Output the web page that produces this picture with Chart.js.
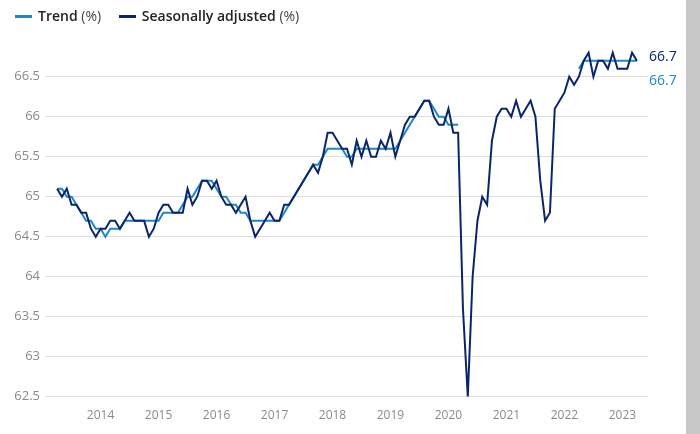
<!DOCTYPE html>
<html>
<head>
<meta charset="utf-8">
<script src="https://cdn.jsdelivr.net/npm/chart.js@4.4.0/dist/chart.umd.min.js"></script>
<style>
    html, body { margin: 0; padding: 0; background: #fff; }
    #wrap { position: relative; width: 700px; height: 434px; overflow: hidden; font-family: "Open Sans", sans-serif; }
    #chart { position: absolute; left: 0; top: 0; }
    #legend { position: absolute; left: 15px; top: 6px; font-size: 14px; color: #222; white-space: nowrap; }
    .item { display: inline-block; margin-right: 14px; }
    .swatch { display: inline-block; width: 17px; height: 2.5px; vertical-align: middle; margin-right: 6px; position: relative; top: -1px; }
    .name { font-weight: 600; }
    .unit { font-weight: 400; color: #444; }
    #scrollbar { position: absolute; right: 0; top: 0; width: 14px; height: 434px; background: #c8c8c8; }
</style>
</head>
<body>
<div id="wrap">
    <canvas id="chart" width="700" height="434"></canvas>
    <div id="legend">
        <span class="item"><span class="swatch" style="background:#1f87c6"></span><span class="name">Trend</span> <span class="unit">(%)</span></span>
        <span class="item"><span class="swatch" style="background:#0b2569"></span><span class="name">Seasonally adjusted</span> <span class="unit">(%)</span></span>
    </div>
    <div id="scrollbar"></div>
</div>
<script>
// monthly series, first point = April 2013, last point = April 2023
const firstYear = 2013;
const firstMonth = 4;
const yearTicks = [2014, 2015, 2016, 2017, 2018, 2019, 2020, 2021, 2022, 2023];
const yTicks = [62.5, 63, 63.5, 64, 64.5, 65, 65.5, 66, 66.5];

// Seasonally adjusted (%)
const saValues = [
    65.1, 65.0, 65.1, 64.9, 64.9, 64.8, 64.8, 64.6, 64.5, 64.6,
    64.6, 64.7, 64.7, 64.6, 64.7, 64.8, 64.7, 64.7, 64.7, 64.5,
    64.6, 64.8, 64.9, 64.9, 64.8, 64.8, 64.8, 65.1, 64.9, 65.0,
    65.2, 65.2, 65.1, 65.2, 65.0, 64.9, 64.9, 64.8, 64.9, 65.0,
    64.7, 64.5, 64.6, 64.7, 64.8, 64.7, 64.7, 64.9, 64.9, 65.0,
    65.1, 65.2, 65.3, 65.4, 65.3, 65.5, 65.8, 65.8, 65.7, 65.6,
    65.6, 65.4, 65.7, 65.5, 65.7, 65.5, 65.5, 65.7, 65.6, 65.8,
    65.5, 65.7, 65.9, 66.0, 66.0, 66.1, 66.2, 66.2, 66.0, 65.9,
    65.9, 66.1, 65.8, 65.8, 63.6, 62.5, 64.0, 64.7, 65.0, 64.9,
    65.7, 66.0, 66.1, 66.1, 66.0, 66.2, 66.0, 66.1, 66.2, 66.0,
    65.2, 64.7, 64.8, 66.1, 66.2, 66.3, 66.5, 66.4, 66.5, 66.7,
    66.8, 66.5, 66.7, 66.7, 66.6, 66.8, 66.6, 66.6, 66.6, 66.8,
    66.7
];

// Trend (%) - suspended during the pandemic
const trendValues = [
    65.1, 65.1, 65.0, 65.0, 64.9, 64.8, 64.7, 64.7, 64.6, 64.6,
    64.5, 64.6, 64.6, 64.6, 64.7, 64.7, 64.7, 64.7, 64.7, 64.7,
    64.7, 64.7, 64.8, 64.8, 64.8, 64.8, 64.9, 65.0, 65.0, 65.1,
    65.2, 65.2, 65.2, 65.1, 65.0, 65.0, 64.9, 64.9, 64.8, 64.8,
    64.7, 64.7, 64.7, 64.7, 64.7, 64.7, 64.7, 64.8, 64.9, 65.0,
    65.1, 65.2, 65.3, 65.4, 65.4, 65.5, 65.6, 65.6, 65.6, 65.6,
    65.5, 65.5, 65.6, 65.6, 65.6, 65.6, 65.6, 65.6, 65.6, 65.6,
    65.6, 65.7, 65.8, 65.9, 66.0, 66.1, 66.2, 66.2, 66.1, 66.0,
    66.0, 65.9, 65.9, 65.9, null, null, null, null, null, null,
    null, null, null, null, null, null, null, null, null, null,
    null, null, null, null, null, null, null, null, 66.6, 66.7,
    66.7, 66.7, 66.7, 66.7, 66.7, 66.7, 66.7, 66.7, 66.7, 66.7,
    66.7
];

const darkBlue = '#0b2569';
const lightBlue = '#1f87c6';

// month number counted from the first observation
function toPoints(values) {
    return values.map(function(v, i) { return { x: i, y: v }; });
}

const endLabels = {
    id: 'endLabels',
    afterDatasetsDraw: function(chart) {
        const ctx = chart.ctx;
        const y = chart.scales.y;
        const x0 = chart.chartArea.right + 1;
        const lastSa = saValues[saValues.length - 1];
        const lastTrend = trendValues[trendValues.length - 1];
        ctx.save();
        ctx.font = '14px "Open Sans"';
        ctx.textAlign = 'left';
        ctx.textBaseline = 'middle';
        ctx.fillStyle = darkBlue;
        ctx.fillText(lastSa.toFixed(1), x0, y.getPixelForValue(lastSa) - 3.5);
        ctx.fillStyle = lightBlue;
        ctx.fillText(lastTrend.toFixed(1), x0, y.getPixelForValue(lastTrend) + 20);
        ctx.restore();
    }
};

new Chart(document.getElementById('chart'), {
    type: 'line',
    data: {
        datasets: [
            {
                label: 'Seasonally adjusted (%)',
                data: toPoints(saValues),
                borderColor: darkBlue,
                borderWidth: 2,
                pointRadius: 0,
                tension: 0,
                order: 0
            },
            {
                label: 'Trend (%)',
                data: toPoints(trendValues),
                borderColor: lightBlue,
                borderWidth: 2,
                pointRadius: 0,
                tension: 0,
                spanGaps: false,
                order: 1
            }
        ]
    },
    options: {
        responsive: false,
        animation: false,
        layout: { padding: { top: 44.7, right: 52, left: 0, bottom: 0 } },
        plugins: {
            legend: { display: false },
            tooltip: { enabled: false }
        },
        scales: {
            x: {
                type: 'linear',
                min: -2.3,
                max: 122.3,
                grid: { display: false },
                border: { display: false },
                afterBuildTicks: function(scale) {
                    scale.ticks = yearTicks.map(function(yr) {
                        return { value: (yr - firstYear) * 12 - (firstMonth - 1) };
                    });
                },
                afterFit: function(scale) { scale.height = 37.3; },
                ticks: {
                    autoSkip: false,
                    maxRotation: 0,
                    padding: 4,
                    color: '#8a8a8a',
                    font: { family: 'Open Sans', size: 12 },
                    callback: function(value) {
                        return String(firstYear + Math.round((value + firstMonth - 1) / 12));
                    }
                }
            },
            y: {
                min: 62.5,
                max: 66.9,
                border: { display: false },
                grid: { color: '#dedede', lineWidth: 1, drawTicks: false },
                afterBuildTicks: function(scale) {
                    scale.ticks = yTicks.map(function(v) { return { value: v }; });
                },
                afterFit: function(scale) { scale.width = 46; },
                ticks: {
                    padding: 6,
                    color: '#8a8a8a',
                    font: { family: 'Open Sans', size: 13 },
                    callback: function(value) { return String(value); }
                }
            }
        }
    },
    plugins: [endLabels]
});
</script>
</body>
</html>
